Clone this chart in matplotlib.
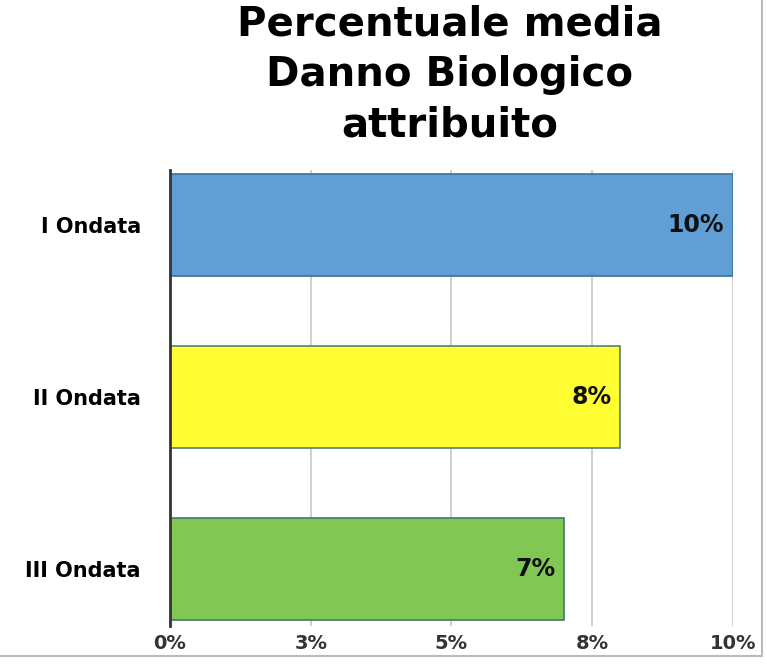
import matplotlib.pyplot as plt
from matplotlib.lines import Line2D

categorie = ['I Ondata', 'II Ondata', 'III Ondata']
valori = [10.0, 8.0, 7.0]
etichette = ['10%', '8%', '7%']
colori = ['#5f9fd6', '#ffff33', '#80c853']
bordi = ['#3f6f97', '#5b7f6a', '#3f7a6a']
tick_x = [0, 2.5, 5, 7.5, 10]
tick_lab = ['0%', '3%', '5%', '8%', '10%']

fig = plt.figure(figsize=(7.67, 6.67), dpi=100)
ax = fig.add_axes([0.2216, 0.0615, 0.734, 0.684])

y = range(len(categorie))
ax.barh(y, valori, height=0.593, color=colori, edgecolor=bordi, linewidth=1.2, zorder=3)
for i, v in enumerate(valori):
    ax.text(v - 0.16, i, etichette[i], ha='right', va='center',
            fontsize=17, fontweight='bold', color='#111111', zorder=4)

ax.set_xlim(0, 10)
ax.set_ylim(2.33, -0.32)
ax.set_yticks(list(y))
ax.set_yticklabels(categorie, fontsize=15, fontweight='bold')
ax.set_xticks(tick_x)
ax.set_xticklabels(tick_lab, fontsize=14, fontweight='bold', color='#333333')
ax.tick_params(axis='y', length=0, pad=21)
ax.tick_params(axis='x', length=0, pad=6)
ax.grid(axis='x', color='#c8c8c8', linewidth=1.2, zorder=0)
for s in ['top', 'right', 'bottom']:
    ax.spines[s].set_visible(False)
ax.spines['left'].set_color('#333333')
ax.spines['left'].set_linewidth(2)
ax.spines['left'].set_zorder(5)

fig.text(0.586, 0.888, 'Percentuale media\nDanno Biologico\nattribuito', ha='center', va='center',
         fontsize=29, fontweight='bold', linespacing=1.34)

# cornice del grafico
fig.add_artist(Line2D([0.993, 0.993], [0.016, 1.0], color='#bbbbbb', linewidth=1.5, transform=fig.transFigure))
fig.add_artist(Line2D([0.0, 0.993], [0.016, 0.016], color='#bbbbbb', linewidth=1.5, transform=fig.transFigure))

fig.savefig('out.png', dpi=100)
